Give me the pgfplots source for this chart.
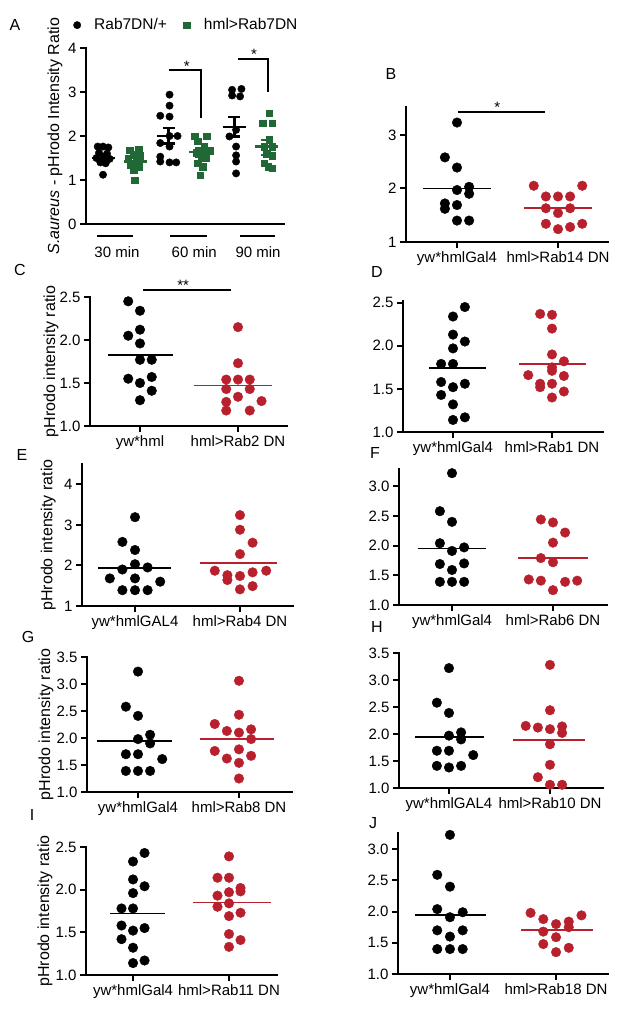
\documentclass[border=0pt]{standalone}
\usepackage{fontspec}
\setmainfont{Liberation Sans}
\usepackage{pgfplots}
\pgfplotsset{compat=1.18}

\definecolor{rabred}{RGB}{185,32,45}
\definecolor{rabgreen}{RGB}{32,105,55}
\newcommand{\fs}{\fontsize{15}{18}\selectfont}
\newcommand{\fl}{\fontsize{16}{19}\selectfont}

\pgfplotsset{
  panel/.style={
    scale only axis, anchor=south west, clip=false,
    axis lines*=left,
    axis line style={line width=2.6pt, -, line cap=rect},
    tick align=outside, major tick length=6pt,
    every tick/.append style={line width=2pt, black},
    tick label style={font=\fs},
    /pgf/number format/assume math mode=true,
    xtick={1,2},
  },
  dec/.style={yticklabel style={/pgf/number format/.cd, fixed, fixed zerofill, precision=1}},
  ylab/.style={every axis y label/.style={at={(axis description cs:#1,0.5)}, rotate=90, anchor=center, font=\fl}},
  ctrl/.style={only marks, mark=*, mark size=4.8pt, black},
  mut/.style={only marks, mark=*, mark size=4.8pt, rabred, mark options={fill=rabred, draw=rabred}},
  meanK/.style={black, line width=1.8pt, no marks},
  meanR/.style={rabred, line width=1.8pt, no marks},
  errK/.style={black, line width=2.2pt, no marks},
  errG/.style={rabgreen, line width=2.2pt, no marks},
}

\begin{document}
\begin{tikzpicture}
\path[use as bounding box] (0pt,0pt) rectangle (624pt,-1013pt);

% ---------------- A ----------------
\begin{axis}[panel, at={(86pt,-224pt)}, width=198pt, height=176pt,
  xmin=0.504, xmax=3.48, ymin=0, ymax=4, ytick={0,1,2,3,4}, xtick=\empty,
  ylab=-0.157, ylabel={\textit{S.aureus} - pHrodo Intensity Ratio},
  legend style={at={(axis description cs:-0.096,1.13)}, anchor=west, draw=none, fill=none,
    legend columns=2, font=\fontsize{15.5}{18}\selectfont, inner sep=0pt,
    /tikz/every even column/.append style={column sep=8pt}},
  legend image code/.code={\path[draw=none, fill=none] (0pt,0pt) (25pt,0pt);
    \draw[mark repeat=2,mark phase=2,#1] plot coordinates {(0pt,0pt)(10pt,0pt)(25pt,0pt)};},
]
\addplot[only marks, mark=*, mark size=3.7pt, black] coordinates {
 (0.68,1.76) (0.76,1.76) (0.84,1.74) (0.70,1.62) (0.82,1.60) (0.66,1.50) (0.76,1.48) (0.86,1.48) (0.72,1.40) (0.80,1.38) (0.76,1.12)
 (1.76,2.94) (1.76,2.69) (1.62,2.46) (1.76,2.44) (1.76,2.00) (1.88,2.00) (1.62,1.84) (1.76,1.76) (1.62,1.53) (1.62,1.42) (1.76,1.40) (1.86,1.40)
 (2.70,3.05) (2.84,3.07) (2.70,2.92) (2.82,2.90) (2.76,2.14) (2.66,1.99) (2.76,1.76) (2.76,1.56) (2.76,1.42) (2.76,1.15)
};
\addplot[only marks, mark=square*, mark size=3.3pt, rabgreen] coordinates {
 (1.16,1.68) (1.30,1.70) (1.22,1.58) (1.32,1.55) (1.14,1.48) (1.26,1.45) (1.18,1.35) (1.30,1.30) (1.22,1.22) (1.24,1.00)
 (2.14,2.00) (2.32,2.00) (2.18,1.88) (2.28,1.76) (2.36,1.66) (2.16,1.62) (2.24,1.53) (2.30,1.50) (2.18,1.38) (2.26,1.30) (2.22,1.11)
 (3.26,2.52) (3.16,2.29) (3.30,2.29) (3.26,1.91) (3.18,1.76) (3.30,1.76) (3.22,1.60) (3.30,1.55) (3.18,1.38) (3.24,1.30) (3.30,1.27)
};
\legend{Rab7DN/+, hml>Rab7DN}
% mean +- SEM
\addplot[errK] coordinates {(0.60,1.50) (0.94,1.50)};
\addplot[errK] coordinates {(0.77,1.42) (0.77,1.58)};
\addplot[errK] coordinates {(0.68,1.42) (0.86,1.42)};
\addplot[errK] coordinates {(0.68,1.58) (0.86,1.58)};
\addplot[errG] coordinates {(1.08,1.42) (1.42,1.42)};
\addplot[errG] coordinates {(1.25,1.32) (1.25,1.52)};
\addplot[errG] coordinates {(1.16,1.32) (1.34,1.32)};
\addplot[errG] coordinates {(1.16,1.52) (1.34,1.52)};
\addplot[errK] coordinates {(1.57,2.00) (1.92,2.00)};
\addplot[errK] coordinates {(1.745,1.83) (1.745,2.19)};
\addplot[errK] coordinates {(1.655,1.83) (1.835,1.83)};
\addplot[errK] coordinates {(1.655,2.19) (1.835,2.19)};
\addplot[errG] coordinates {(2.05,1.63) (2.41,1.63)};
\addplot[errG] coordinates {(2.23,1.53) (2.23,1.72)};
\addplot[errG] coordinates {(2.14,1.53) (2.32,1.53)};
\addplot[errG] coordinates {(2.14,1.72) (2.32,1.72)};
\addplot[errK] coordinates {(2.56,2.21) (2.91,2.21)};
\addplot[errK] coordinates {(2.735,1.99) (2.735,2.44)};
\addplot[errK] coordinates {(2.645,1.99) (2.825,1.99)};
\addplot[errK] coordinates {(2.645,2.44) (2.825,2.44)};
\addplot[errG] coordinates {(3.05,1.76) (3.39,1.76)};
\addplot[errG] coordinates {(3.22,1.57) (3.22,1.91)};
\addplot[errG] coordinates {(3.13,1.57) (3.31,1.57)};
\addplot[errG] coordinates {(3.13,1.91) (3.31,1.91)};
% brackets and group labels
\draw[line width=2pt] (1.75,3.49) -- (2.23,3.49) -- (2.23,2.40);
\draw[line width=2pt] (2.79,3.76) -- (3.24,3.76) -- (3.24,3.00);
\node[font=\fs, anchor=base] at (2.02,3.47) {*};
\node[font=\fs, anchor=base] at (3.03,3.74) {*};
\draw[line width=2pt] (0.67,-0.27) -- (1.21,-0.27);
\draw[line width=2pt] (1.77,-0.27) -- (2.32,-0.27);
\draw[line width=2pt] (2.82,-0.27) -- (3.35,-0.27);
\node[font=\fs] at (0.97,-0.64) {30 min};
\node[font=\fs] at (2.13,-0.64) {60 min};
\node[font=\fs] at (3.09,-0.64) {90 min};
\end{axis}

% ---------------- B ----------------
\begin{axis}[panel, at={(406pt,-242pt)}, width=202pt, height=135pt,
  xmin=0.495, xmax=2.495, ymin=1, ymax=3.52, ytick={1,2,3},
  xticklabels={yw*hmlGal4, hml>Rab14 DN}]
\addplot[ctrl] coordinates {(1,3.23) (0.88,2.58) (1,2.39) (1.12,2.03) (1,1.97) (1.12,1.90) (0.88,1.72) (0.88,1.62) (1,1.69) (1,1.40) (1.12,1.40)};
\addplot[mut] coordinates {(1.76,2.05) (2.24,2.05) (1.88,1.85) (2,1.85) (2.12,1.85) (1.88,1.63) (2.12,1.63) (2,1.54) (1.88,1.34) (2.24,1.34) (2,1.24) (2.12,1.28)};
\addplot[meanK] coordinates {(0.66,2.0) (1.34,2.0)};
\addplot[meanR] coordinates {(1.66,1.64) (2.34,1.64)};
\draw[line width=1.8pt] (1.01,3.43) -- (1.87,3.43);
\node[font=\fs, anchor=base] at (1.40,3.42) {*};
\end{axis}

% ---------------- C ----------------
\begin{axis}[panel, dec, at={(90pt,-426pt)}, width=197pt, height=129pt,
  xmin=0.49, xmax=2.5, ymin=1, ymax=2.5, ytick={1,1.5,2,2.5},
  xticklabels={yw*hml, hml>Rab2 DN},
  ylab=-0.198, ylabel={pHrodo intensity ratio}]
\addplot[ctrl] coordinates {(0.88,2.45) (1,2.34) (1,2.12) (0.88,2.05) (1,1.96) (1,1.77) (1.12,1.77) (0.88,1.55) (1,1.50) (1.12,1.57) (1.12,1.41) (1,1.30)};
\addplot[mut] coordinates {(2,2.15) (2,1.73) (1.88,1.54) (2,1.54) (2.12,1.54) (1.88,1.43) (2.12,1.43) (2,1.34) (1.88,1.28) (2.24,1.29) (1.88,1.18) (2.12,1.18)};
\addplot[meanK] coordinates {(0.67,1.83) (1.34,1.83)};
\addplot[meanR] coordinates {(1.55,1.47) (2.35,1.47)};
\draw[line width=1.8pt] (1.03,2.58) -- (1.93,2.58);
\node[font=\fs, anchor=base] at (1.44,2.57) {**};
\end{axis}

% ---------------- D ----------------
\begin{axis}[panel, dec, at={(403pt,-432pt)}, width=200pt, height=131pt,
  xmin=0.495, xmax=2.515, ymin=1, ymax=2.52, ytick={1,1.5,2,2.5},
  xticklabels={yw*hmlGal4, hml>Rab1 DN}]
\addplot[ctrl] coordinates {(1.12,2.45) (1,2.34) (1,2.13) (1.12,2.05) (1,1.97) (0.88,1.79) (1,1.79) (0.88,1.58) (1,1.52) (1.12,1.56) (0.88,1.43) (1,1.32) (1,1.14) (1.12,1.17)};
\addplot[mut] coordinates {(1.88,2.37) (2,2.36) (2,2.20) (2,1.90) (2.12,1.82) (2,1.75) (1.76,1.66) (2,1.71) (2.12,1.65) (1.88,1.56) (2,1.56) (1.88,1.52) (2.12,1.47) (2,1.40)};
\addplot[meanK] coordinates {(0.76,1.74) (1.33,1.74)};
\addplot[meanR] coordinates {(1.67,1.79) (2.34,1.79)};
\end{axis}

% ---------------- E ----------------
\begin{axis}[panel, at={(82pt,-606pt)}, width=211pt, height=142pt,
  xmin=0.495, xmax=2.505, ymin=1, ymax=4.5, ytick={1,2,3,4},
  xticklabels={yw*hmlGAL4, hml>Rab4 DN},
  ylab=-0.16, ylabel={pHrodo intensity ratio}]
\addplot[ctrl] coordinates {(1,3.19) (0.88,2.58) (1,2.38) (1,2.03) (0.88,1.90) (1.12,1.95) (0.76,1.68) (1,1.68) (1.24,1.60) (0.88,1.39) (1,1.39) (1.12,1.39)};
\addplot[mut] coordinates {(2,3.24) (2,2.88) (2.12,2.56) (2,2.28) (1.76,1.87) (1.88,1.76) (1.88,1.64) (2,1.74) (2.12,1.83) (2.25,1.87) (2,1.41) (2.12,1.49)};
\addplot[meanK] coordinates {(0.65,1.93) (1.34,1.93)};
\addplot[meanR] coordinates {(1.62,2.06) (2.35,2.06)};
\end{axis}

% ---------------- F ----------------
\begin{axis}[panel, dec, at={(399pt,-605pt)}, width=208pt, height=136pt,
  xmin=0.475, xmax=2.535, ymin=1, ymax=3.29, ytick={1,1.5,2,2.5,3},
  xticklabels={yw*hmlGal4, hml>Rab6 DN}]
\addplot[ctrl] coordinates {(1,3.22) (0.88,2.58) (1,2.40) (0.88,2.04) (1,1.91) (1.12,1.97) (0.88,1.69) (1.12,1.70) (1,1.59) (0.88,1.39) (1,1.39) (1.12,1.39)};
\addplot[mut] coordinates {(1.88,2.44) (2,2.39) (2.12,2.22) (2,2.05) (1.88,1.79) (2,1.72) (1.76,1.43) (1.88,1.41) (2,1.25) (2.12,1.39) (2.24,1.41)};
\addplot[meanK] coordinates {(0.66,1.95) (1.34,1.95)};
\addplot[meanR] coordinates {(1.65,1.79) (2.35,1.79)};
\end{axis}

% ---------------- G ----------------
\begin{axis}[panel, dec, at={(87pt,-792pt)}, width=205pt, height=135pt,
  xmin=0.495, xmax=2.525, ymin=1, ymax=3.5, ytick={1,1.5,2,2.5,3,3.5},
  xticklabels={yw*hmlGal4, hml>Rab8 DN},
  ylab=-0.2, ylabel={pHrodo intensity ratio}]
\addplot[ctrl] coordinates {(1,3.23) (0.88,2.58) (1,2.41) (1.12,2.06) (1,1.98) (1.12,1.90) (0.88,1.70) (1,1.70) (1.24,1.61) (0.88,1.39) (1,1.39) (1.12,1.39)};
\addplot[mut] coordinates {(2,3.06) (2,2.43) (1.76,2.26) (1.88,2.13) (2,2.10) (2.12,2.16) (2.12,1.98) (1.76,1.76) (2,1.79) (1.88,1.62) (2,1.54) (2.12,1.67) (2,1.25)};
\addplot[meanK] coordinates {(0.59,1.94) (1.34,1.94)};
\addplot[meanR] coordinates {(1.61,1.98) (2.35,1.98)};
\end{axis}

% ---------------- H ----------------
\begin{axis}[panel, dec, at={(399pt,-788pt)}, width=204pt, height=135pt,
  xmin=0.505, xmax=2.525, ymin=1, ymax=3.5, ytick={1,1.5,2,2.5,3,3.5},
  xticklabels={yw*hmlGAL4, hml>Rab10 DN}]
\addplot[ctrl] coordinates {(1,3.22) (0.88,2.58) (1,2.39) (1.12,2.03) (1,1.97) (1.12,1.90) (0.88,1.69) (1,1.69) (1.24,1.61) (0.88,1.41) (1.12,1.41) (1,1.38)};
\addplot[mut] coordinates {(2,3.28) (2,2.44) (1.76,2.15) (1.88,2.12) (2,2.09) (2.12,2.14) (2.12,2.02) (2,1.81) (2,1.43) (1.88,1.20) (2,1.06) (2.12,1.06)};
\addplot[meanK] coordinates {(0.66,1.94) (1.35,1.94)};
\addplot[meanR] coordinates {(1.63,1.89) (2.35,1.89)};
\end{axis}

% ---------------- I ----------------
\begin{axis}[panel, dec, at={(86pt,-975pt)}, width=191pt, height=128pt,
  xmin=0.51, xmax=2.5, ymin=1, ymax=2.5, ytick={1,1.5,2,2.5},
  xticklabels={yw*hmlGal4, hml>Rab11 DN},
  ylab=-0.215, ylabel={pHrodo intensity ratio}]
\addplot[ctrl] coordinates {(1.12,2.43) (1,2.33) (1,2.12) (1.12,2.04) (1,1.96) (0.88,1.78) (1,1.78) (0.88,1.58) (1,1.52) (1.12,1.55) (0.88,1.42) (1,1.32) (1,1.14) (1.12,1.17)};
\addplot[mut] coordinates {(2,2.39) (1.88,2.14) (2,2.14) (2.12,2.02) (2.12,1.98) (2,1.97) (1.88,1.93) (2,1.84) (1.88,1.80) (2.12,1.73) (2,1.69) (2,1.48) (2.12,1.41) (2,1.33)};
\addplot[meanK] coordinates {(0.76,1.72) (1.33,1.72)};
\addplot[meanR] coordinates {(1.63,1.85) (2.44,1.85)};
\end{axis}

% ---------------- J ----------------
\begin{axis}[panel, dec, at={(398pt,-974pt)}, width=210pt, height=141pt,
  xmin=0.51, xmax=2.49, ymin=1, ymax=3.26, ytick={1,1.5,2,2.5,3},
  xticklabels={yw*hmlGal4, hml>Rab18 DN}]
\addplot[ctrl] coordinates {(1,3.23) (0.88,2.59) (1,2.40) (0.88,2.04) (1,1.91) (1.12,1.99) (0.88,1.70) (1.12,1.70) (1,1.60) (0.88,1.40) (1,1.40) (1.12,1.40)};
\addplot[mut] coordinates {(1.76,1.98) (2.24,1.94) (1.88,1.88) (2,1.80) (2.12,1.84) (2.12,1.75) (1.88,1.68) (2,1.59) (1.88,1.48) (2.12,1.42) (2,1.35)};
\addplot[meanK] coordinates {(0.67,1.95) (1.34,1.95)};
\addplot[meanR] coordinates {(1.67,1.70) (2.35,1.70)};
\end{axis}

% panel letters
\node[font=\fl] at (15pt,-25pt) {A};
\node[font=\fl] at (391pt,-74pt) {B};
\node[font=\fl] at (20pt,-270pt) {C};
\node[font=\fl] at (377pt,-272pt) {D};
\node[font=\fl] at (22pt,-455pt) {E};
\node[font=\fl] at (375pt,-453pt) {F};
\node[font=\fl] at (28pt,-637pt) {G};
\node[font=\fl] at (377pt,-627pt) {H};
\node[font=\fl] at (32pt,-815pt) {I};
\node[font=\fl] at (373pt,-823pt) {J};
\end{tikzpicture}
\end{document}
